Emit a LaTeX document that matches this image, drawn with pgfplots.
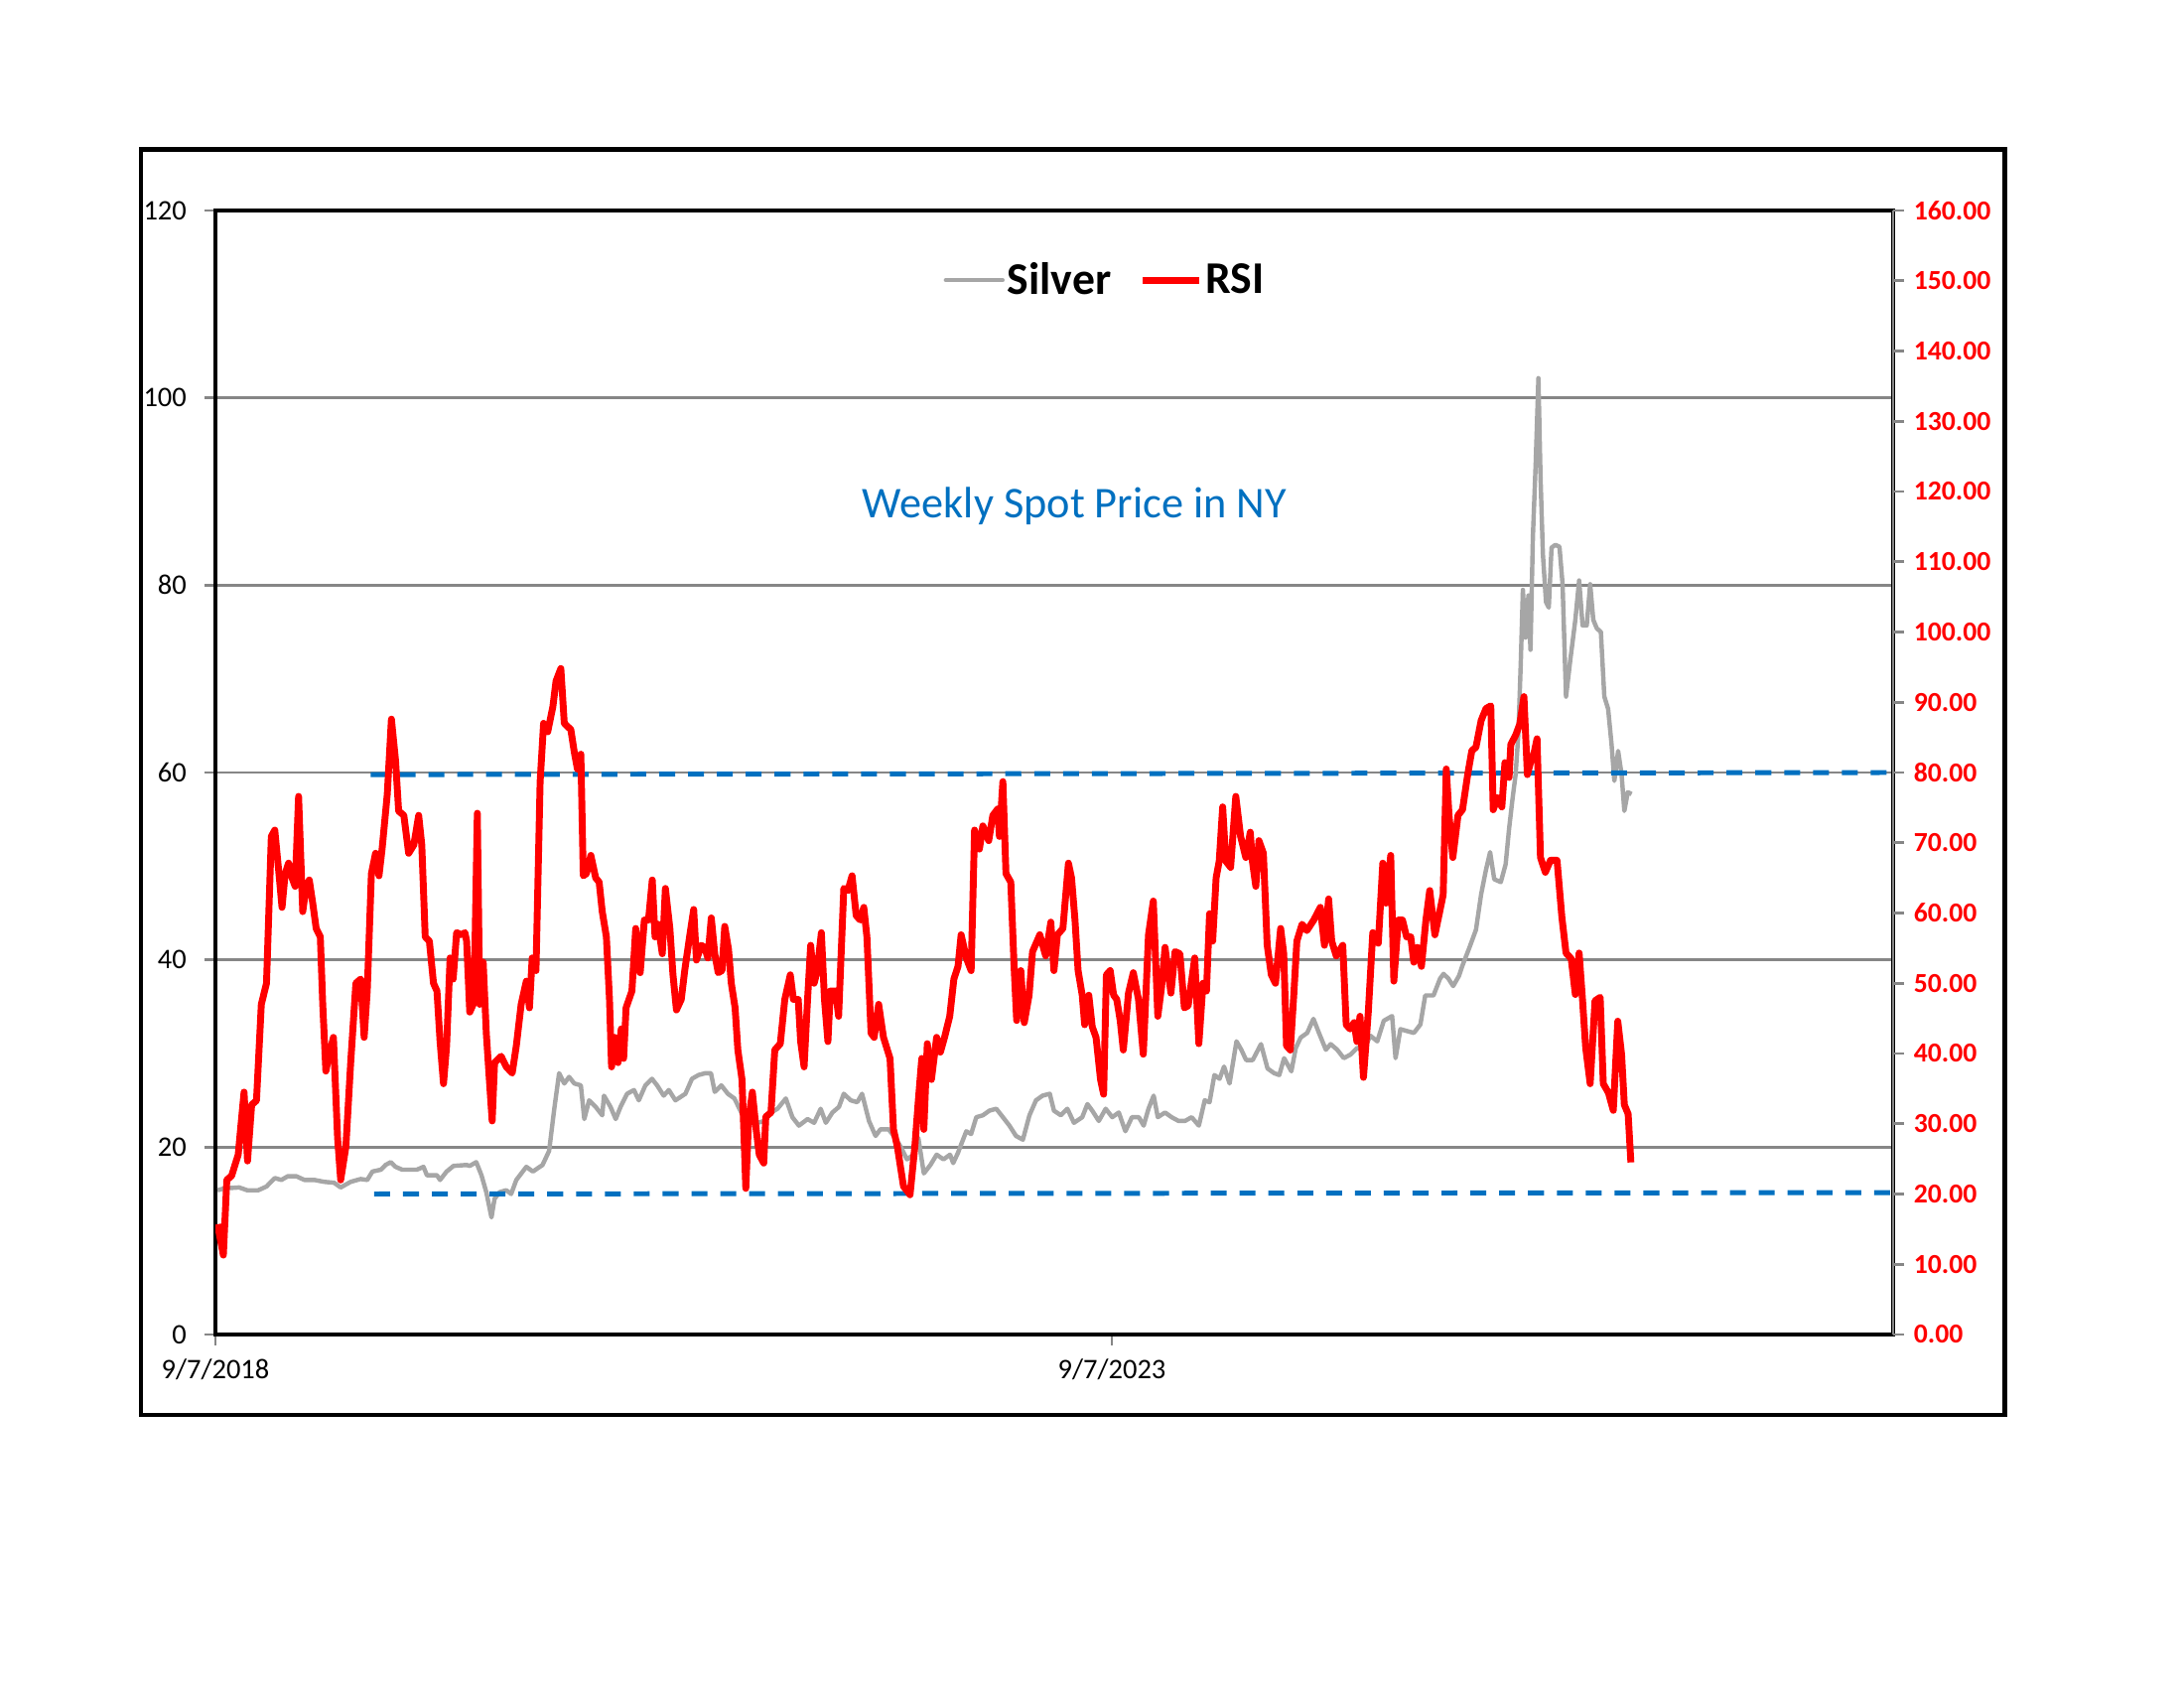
\documentclass[border=0pt]{standalone}
\usepackage{fontspec}
\setmainfont{Carlito}
\usepackage{pgfplots}
\pgfplotsset{compat=1.18}
\definecolor{silvergray}{HTML}{A6A6A6}
\definecolor{gridgray}{HTML}{868686}
\definecolor{xlblue}{HTML}{0070C0}
\definecolor{rsired}{HTML}{FF0000}

\pgfplotstableread{
w s
0.6 15.4
2.6 15.6
6.9 15.7
9.2 15.4
12.4 15.4
14.8 15.8
17.2 16.7
19.1 16.5
21 16.9
23.4 16.9
25.8 16.5
28.7 16.5
31.5 16.3
34.4 16.2
36.3 15.7
39.2 16.3
42.1 16.6
44 16.5
45.5 17.4
48 17.6
49.3 18.1
50.8 18.4
52.2 17.9
54.1 17.6
56.5 17.6
58.4 17.6
60.3 17.9
61.3 17
64.2 17
65.1 16.5
67 17.4
69 18
72.8 18.1
73.7 18
75.6 18.4
77.1 17
78.5 15.2
80 12.5
80.9 14.5
82.4 15.2
84.3 15.4
85.7 15
87.2 16.5
90.1 17.9
92 17.4
94.8 18.1
96.7 19.6
98.2 24.1
99.6 27.9
101.1 26.8
102.5 27.5
104 26.8
105.9 26.6
106.9 23
108.3 25
110.2 24.3
112.1 23.4
112.6 25.5
114.5 24.3
116 23
117.4 24.3
119.3 25.7
121.3 26.1
122.7 25
124.6 26.6
126.5 27.3
128 26.6
129.9 25.5
131.4 26.1
133.3 25
136.2 25.7
138.1 27.3
140 27.7
142 27.9
143.6 27.9
144.7 25.9
146.6 26.6
148.5 25.7
150.4 25.2
152.4 23.7
153.8 23
155.2 24.1
157.1 22.6
159.1 22.8
161 23.7
162.9 24.1
165.3 25.2
167.2 23.2
169.1 22.3
171.6 23
173.5 22.6
175.4 24.1
176.9 22.6
178.8 23.7
180.7 24.3
182.1 25.7
184.1 25
186 24.8
187.4 25.7
189.4 22.8
191.3 21.2
192.7 21.9
195.1 21.9
197 21
198.5 20.1
200.4 18.7
202.3 19.2
203.7 21
205.3 17.2
207.2 18.1
209 19.2
211 18.7
212.9 19.2
213.8 18.3
215.2 19.4
215.7 19.9
217.6 21.7
219 21.4
220.5 23.2
222.4 23.4
224.3 23.9
226.3 24.1
228.2 23.2
230.1 22.3
232 21.2
234 20.8
235.9 23.4
237.8 25
239.7 25.5
241.8 25.7
243 23.9
245 23.4
246.9 24.1
248.8 22.6
251.2 23.2
252.7 24.6
254.1 23.9
256 22.8
258 24.1
259.9 23.2
261.8 23.7
263.7 21.7
265.6 23.2
267.6 23.2
269 22.3
270.4 24.1
271.9 25.5
273.1 23.2
275.2 23.7
277.1 23.2
279.1 22.8
281 22.8
282.9 23.2
285 22.3
286.7 25
288.1 24.8
289.5 27.7
291 27.3
292.3 28.6
293.9 26.8
295.9 31.3
297.3 30.4
298.7 29.3
300.6 29.3
303 31
304.9 28.4
306.8 27.9
308.3 27.7
309.7 29.5
311.8 28.1
313.1 30.6
314.5 31.7
316.4 32.2
318.2 33.7
319.8 32.2
321.8 30.4
323.2 31
325.1 30.4
327 29.5
329 29.9
330.9 30.6
332.8 30.4
334.7 31.9
336.7 31.3
338.6 33.5
341 34
342 29.5
343.4 32.6
345.3 32.4
347.3 32.2
349.2 33.1
350.6 36.2
353 36.2
354.9 38
355.9 38.5
357.3 38
358.7 37.2
360.4 38.3
361.4 39.4
363.4 41.3
365.3 43.2
366.8 47
368.2 49.6
369.4 51.5
370.6 48.6
372.5 48.3
373.9 50.2
374.9 54
375.9 57.2
376.8 59.8
377.6 64.2
378.3 71.9
378.9 79.5
379.7 74.4
380.5 78.9
381.1 73.1
381.8 85.2
382.6 92.9
383.4 102.1
384 91.6
384.7 83.3
385.6 78.2
386.4 77.6
387.2 84
388.3 84.3
389.5 84.1
390.4 80.1
391.4 68.1
392.6 71.9
394.1 76.3
395.2 80.5
396.2 75.7
397.4 75.7
398.4 80.1
399.3 76.3
400.3 75.4
401.5 75
402.5 68.1
403.6 66.8
404.6 63
405.4 59.1
406.5 62.3
407.5 59.8
408.3 55.9
409.3 57.9
410.4 57.7
}\silvertable

\pgfplotstableread{
w r
0.6 15.7
2.3 11.3
3.3 22
4.7 22.6
6.6 25.6
8.3 34.5
9.3 24.7
10.5 32.7
11.9 33.3
13.3 47
14.8 50
16.2 70.9
17.2 71.8
18.3 66.2
19.3 60.8
20.2 65.6
21.2 67.1
22.2 65
23.1 63.8
24.1 76.6
25.3 60.2
26.3 63.8
27.2 64.7
28.2 61.4
29.2 57.8
30.4 56.6
31.1 47
32.0 37.5
33 39.9
34.2 42.3
35.4 28
36.3 22
37.8 26.7
39.2 38.7
40.7 50
42.1 50.6
43.1 42.3
44.0 48.9
45.2 65.6
46.4 68.5
47.4 65.3
48.3 69.1
49.8 76.9
51.0 87.6
52.2 81.7
53.1 74.5
54.6 73.9
56.0 68.5
57.5 69.7
58.9 73.9
59.8 69.7
60.8 56.6
62 56
63.2 50
64.2 48.9
65.1 41.7
66.1 35.7
67 41.1
68 53.6
68.9 50.6
69.9 57.2
71.3 56.9
72.3 57.2
72.8 56
73.7 45.9
74.7 47
75.2 54.8
75.9 74.2
76.6 47
77.6 53
78.5 42.9
79.3 36.9
80.2 30.4
80.9 38.7
82.8 39.6
84.3 38.1
86 37.2
87.2 41.1
88.6 47
90.1 50.3
91 46.5
91.8 53.6
92.9 51.8
94.1 78.7
95.1 87
96.3 85.8
97.8 89.4
98.7 93
100.1 94.8
101.1 87
103 86.1
104 82.9
104.9 80.5
105.9 82.6
106.6 65.3
107.5 65.6
108.8 68.2
110.2 65
111.2 64.4
112.1 60.2
113.3 56.6
114.2 47.7
114.8 38.1
115.7 42.3
116.7 38.7
117.6 43.5
118.3 39.3
119 46.5
120.7 48.9
121.8 57.8
123.1 51.5
124.3 59
125.5 59
126.6 64.7
127.4 56.6
128.3 58.4
129.5 54.2
130.4 63.5
131.7 57.8
132.6 51.2
133.6 46.2
135 47.7
136 51.8
137.4 56.6
138.6 60.5
139.4 53.3
140.8 55.4
141.8 55.1
142.7 53.6
143.7 59.3
144.7 54.2
145.7 51.5
146.8 51.8
147.6 58.1
148.7 54.8
149.5 50
150.6 46.5
151.4 40.5
152.6 36.3
153.2 28
153.7 20.8
154.5 30.4
155.6 34.5
156.7 29.2
157.6 25.6
158.9 24.4
159.5 31
161 31.6
162.1 40.5
163.7 41.4
165 47.7
166.6 51.2
167.5 47.7
168.9 47.7
169.6 41.7
170.6 38.1
171.6 47.7
172.5 55.4
173.5 50
174.4 51.8
175.6 57.2
176.5 47.7
177.5 41.7
178.2 48.9
179.7 48.9
180.6 45.3
182.1 63.5
183.3 63.2
184.5 65.3
185.7 59.6
186.9 59
187.9 60.8
188.8 56.6
190 42.9
190.9 42.3
192.2 47
193.6 42.3
195.5 39.3
196.5 29.2
197.6 26.8
199.4 21.1
201.3 19.9
202.7 26.8
203.7 33.3
204.7 39.3
205.3 29.2
206.3 41.4
207.5 36.3
209 42.3
210.1 40.2
211.3 42.3
212.8 45.3
214 50.6
215.2 52.4
216.1 56.9
217.6 53.6
219 51.8
220 71.8
221.4 69.1
222.4 72.4
224.1 70.3
225.3 73.9
226.7 74.8
227.2 70.9
228.2 78.7
229.1 65.6
230.5 64.4
231.5 51.8
232.2 44.7
233.4 51.8
234.4 44.4
235.8 48.3
236.8 54.5
238.9 56.9
240.6 53.9
242.1 58.7
243 51.8
244 56.9
245.6 57.8
247.2 67.1
248.1 65
249.1 59
250 51.8
251.2 48.3
251.9 44.1
253.1 48.3
254.1 43.8
255.2 42.3
256.5 36.3
257.4 34.2
258.2 51.2
259.3 51.8
260.3 48.3
261.2 47.7
262.2 44.7
263.1 40.5
264.6 48.6
266 51.5
267.5 47.7
268.9 39.9
270.4 56.9
271.8 61.7
273.1 45.3
274.2 49.5
275.2 55.1
276.9 48.6
278.1 54.5
279.5 54.2
280.8 46.5
281.9 46.8
283.8 53.6
285 41.4
286.2 50
287.2 48.9
288.1 59.9
289 56
290 65
290.9 67.4
291.9 75.1
292.8 67.4
294.2 66.5
295.7 76.6
297.1 70.9
298.6 67.9
299.9 71.5
300.5 67.4
301.5 63.8
302.4 70.3
303.7 68.5
304.8 55.4
306 51.2
307.2 50
308.7 57.8
309.6 54.2
310.4 41.1
311.5 40.5
312.5 48.3
313.4 56
314.9 58.4
316.3 57.5
318.3 59
320.2 60.8
321.4 55.4
322.6 62
323.5 56
324.8 53.9
326.7 55.4
327.7 44.1
328.8 43.5
330 44.4
330.8 41.7
331.7 45.3
332.7 36.6
334.1 45.9
335.4 57.2
337 55.7
338.3 67.1
339.2 61.4
340.6 68.2
341.5 50.3
342.8 59
344 59
345.2 56.6
346.4 56.6
347.3 53
348.3 55.1
349.5 52.4
350.8 59
351.9 63.2
353.4 56.9
354.8 60.2
355.8 62.6
356.7 80.5
357.5 73.9
358.6 67.9
360.1 73.9
361.4 74.7
362.9 79.7
364.1 83.1
365.3 83.6
366.8 87.4
368.2 89.1
369.6 89.5
370.3 74.7
371.5 76.4
372.8 75.1
373.7 81.4
374.9 79.3
375.4 84
376.8 85.3
378 86.9
379.2 90.8
380.2 79.7
381.1 81.4
382.1 82.7
383 84.8
384 67.9
385.4 65.8
386.9 67.5
388.8 67.5
390.2 59.4
391.4 54.3
392.9 53.5
394.1 48.4
395.2 54.3
396.2 47.5
397.1 40.8
398.4 35.7
399.8 47.5
401.3 48
402.2 35.7
403.7 34.4
405.1 31.9
406.4 44.6
407.5 39.9
408.3 32.7
409.4 31.4
410.2 24.5
}\rsitable

\begin{document}
\begin{tikzpicture}
\path[use as bounding box] (0,0) rectangle (11in,8.5in);
\draw[line width=1.8pt] (0.71in,1.375in) rectangle (10.095in,7.745in);

\begin{axis}[
  at={(1.085in,1.78in)}, anchor=south west,
  scale only axis, width=8.45in, height=5.66in,
  xmin=0, xmax=486.2, ymin=0, ymax=120,
  xtick={0,259.8}, xticklabels={9/7/2018,9/7/2023},
  ytick={0,20,...,120},
  xtick pos=bottom, ytick pos=left,
  ymajorgrids, grid style={gridgray, line width=1pt},
  axis line style={black, line width=1.3pt},
  tick style={gridgray, line width=1pt},
  tick align=outside, major tick length=4pt,
  /pgf/number format/assume math mode=true,
  ticklabel style={font=\fontsize{10.3}{12}\selectfont, text=black},
  yticklabel style={xshift=-3pt},
  xticklabel style={yshift=-1.5pt},
  clip=true,
]
\addplot[silvergray, line width=1.6pt, line join=round] table[x=w, y=s] {\silvertable};
\end{axis}

\begin{axis}[
  at={(1.085in,1.78in)}, anchor=south west,
  scale only axis, width=8.45in, height=5.66in,
  xmin=0, xmax=486.2, ymin=0, ymax=160,
  axis x line=none, axis y line*=right,
  ytick={0,10,...,160},
  axis line style={gridgray, line width=1pt},
  tick style={gridgray, line width=1pt},
  tick align=outside, major tick length=4pt,
  /pgf/number format/assume math mode=true,
  yticklabel style={font=\bfseries\fontsize{10}{12}\selectfont, text=rsired,
    /pgf/number format/.cd, fixed, fixed zerofill, precision=2},
  legend style={at={(0.5305,0.938)}, anchor=center, draw=none, fill=none,
    legend columns=2, font=\bfseries\fontsize{16.5}{19}\selectfont,
    nodes={inner xsep=1pt},
    /tikz/every even column/.append style={column sep=0.13in}},
  legend image code/.code={\draw[#1] (0in,0in) -- (0.285in,0in);},
]
\addlegendimage{silvergray, line width=1.6pt, line cap=round}
\addlegendentry{Silver}
\addplot[xlblue, line width=1.8pt, dash pattern=on 5.8pt off 4.7pt, forget plot] coordinates {(45,79.7) (486.2,80)};
\addplot[xlblue, line width=1.8pt, dash pattern=on 5.8pt off 4.7pt, forget plot] coordinates {(46,20) (486.2,20.2)};
\addplot[rsired, line width=2.5pt, line join=round] table[x=w, y=r] {\rsitable};
\addlegendentry{RSI}
\node[font=\fontsize{16}{19}\selectfont, text=xlblue, anchor=base] at (axis description cs:0.512,0.727) {Weekly Spot Price in NY};
\end{axis}
\end{tikzpicture}
\end{document}
